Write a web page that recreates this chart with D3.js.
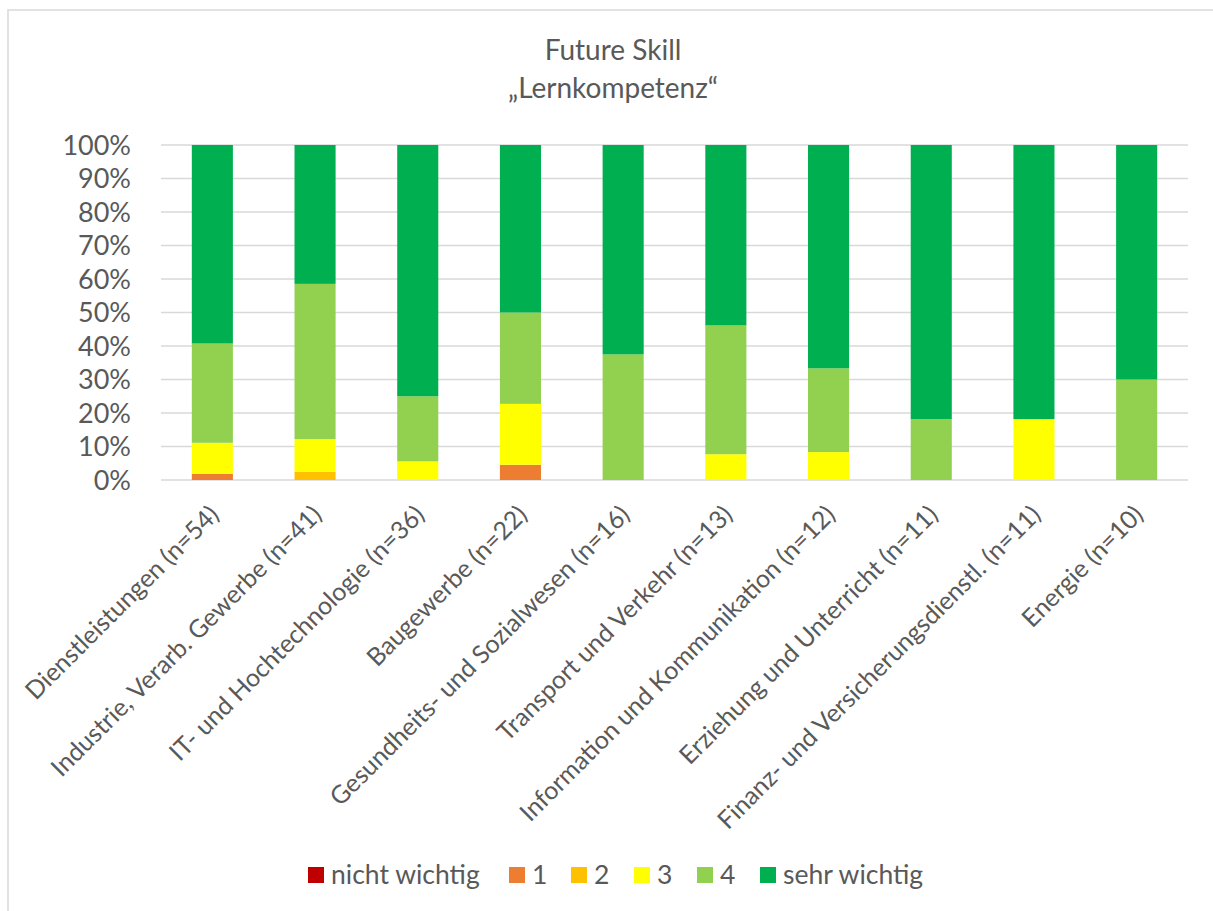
<!DOCTYPE html>
<html><head><meta charset="utf-8">
<script src="https://cdn.jsdelivr.net/npm/d3@7"></script>
<style>body{margin:0;background:#fff}svg{display:block}text{font-family:Lato,"Open Sans",sans-serif;fill:#595959}</style>
</head><body><svg id="c" width="1213" height="911"></svg>
<script>
const categories = ["Dienstleistungen (n=54)","Industrie, Verarb. Gewerbe (n=41)","IT- und Hochtechnologie (n=36)","Baugewerbe (n=22)","Gesundheits- und Sozialwesen (n=16)","Transport und Verkehr (n=13)","Information und Kommunikation (n=12)","Erziehung und Unterricht (n=11)","Finanz- und Versicherungsdienstl. (n=11)","Energie (n=10)"];
const seriesNames = ["nicht wichtig","1","2","3","4","sehr wichtig"];
const seriesColors = ["#C00000","#ED7D31","#FFC000","#FFFF00","#92D050","#00B050"];
const nichtWichtig = [0,0,0,0,0,0,0,0,0,0];
const s1 = [1.85,0,0,4.55,0,0,0,0,0,0];
const s2 = [0,2.44,0,0,0,0,0,0,0,0];
const s3 = [9.26,9.76,5.56,18.18,0,7.69,8.33,0,18.18,0];
const s4 = [29.63,46.34,19.44,27.27,37.5,38.46,25,18.18,0,30];
const sehrWichtig = [59.26,41.46,75,50,62.5,53.85,66.67,81.82,81.82,70];
const yTicks = [0,10,20,30,40,50,60,70,80,90,100];
const titleLines = ["Future Skill","„Lernkompetenz“"];

const svg = d3.select("#c");
svg.append("rect").attr("x",8).attr("y",10).attr("width",1230).attr("height",920)
  .attr("fill","#fff").attr("stroke","#d9d9d9").attr("stroke-width",1.5);

const pL=161, pR=1188, pT=145, pB=480;
const x = d3.scaleBand().domain(categories).range([pL,pR]).paddingInner(0.6).paddingOuter(0.3);
const y = d3.scaleLinear().domain([0,100]).range([pB,pT]);

svg.append("g").selectAll("line").data(yTicks).join("line")
  .attr("x1",pL).attr("x2",pR).attr("y1",d=>y(d)).attr("y2",d=>y(d))
  .attr("stroke","#d9d9d9").attr("stroke-width",1.5);

svg.append("g").selectAll("text").data(yTicks).join("text")
  .attr("x",131).attr("y",d=>y(d)).attr("dy","0.36em").attr("text-anchor","end")
  .attr("font-size",27).text(d=>d+"%");

const rows = categories.map((c,i)=>({cat:c, v:[nichtWichtig[i],s1[i],s2[i],s3[i],s4[i],sehrWichtig[i]]}));
const keys = seriesNames.map((_,k)=>k);
const stack = d3.stack().keys(keys).value((d,k)=>d.v[k]);
const layers = stack(rows);
svg.append("g").selectAll("g").data(layers).join("g").attr("fill",(d,i)=>seriesColors[i])
  .selectAll("rect").data(d=>d).join("rect")
  .attr("x",d=>x(d.data.cat)).attr("width",x.bandwidth())
  .attr("y",d=>y(d[1])).attr("height",d=>Math.max(0,y(d[0])-y(d[1])));

svg.append("g").selectAll("text").data(categories).join("text")
  .attr("transform",d=>`translate(${x(d)+x.bandwidth()/2+2},${pB+30}) rotate(-45)`)
  .attr("text-anchor","end").attr("dy","0.35em").attr("font-size",25).text(d=>d);

svg.append("g").selectAll("text").data(titleLines).join("text")
  .attr("x",613).attr("y",(d,i)=>60+i*38).attr("text-anchor","middle").attr("font-size",28).text(d=>d);

const legX=[308,509,571,634,697,760];
const lg = svg.append("g").selectAll("g").data(seriesNames).join("g")
  .attr("transform",(d,i)=>`translate(${legX[i]},884)`);
lg.append("rect").attr("x",0).attr("y",-17).attr("width",16).attr("height",16).attr("fill",(d,i)=>seriesColors[i]);
lg.append("text").attr("x",23).attr("font-size",26.5).text(d=>d);
</script></body></html>
